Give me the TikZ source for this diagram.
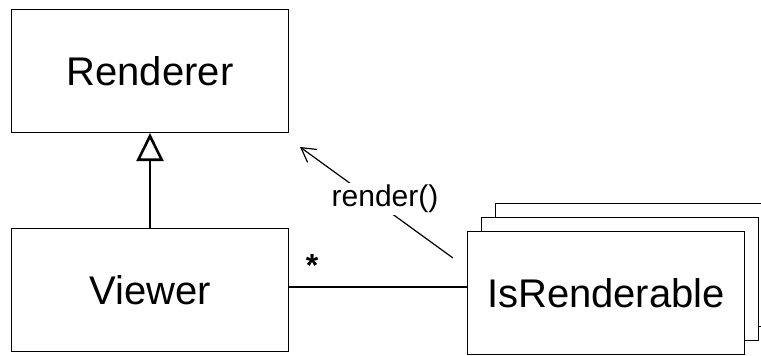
\documentclass[tikz,border=0pt]{standalone}
\usepackage{fontspec}
\setmainfont{Liberation Sans}
\usetikzlibrary{arrows.meta}

\begin{document}
\begin{tikzpicture}[x=1pt, y=1pt, line width=1.2pt,
    classbox/.style={draw, fill=white, minimum width=277pt, minimum height=123pt, inner sep=0pt, font=\fontsize{40}{44}\selectfont}]
    \useasboundingbox (0,0) rectangle (761,356);
    \node[classbox] (renderer) at (150,285) {Renderer};
    \node[classbox] (viewer) at (150,66) {Viewer};
    % stacked instances
    \node[classbox] (back) at (634,91) {};
    \node[classbox] (middle) at (620,77) {};
    \node[classbox] (renderable) at (606,63) {IsRenderable};
    \draw [-{Triangle[open, length=28pt, width=27pt]}, line width=2.6pt] (viewer.north) -- (renderer.south);
    \draw (viewer.east |- 0,69) -- (renderable.west |- 0,69) node[pos=0, xshift=23pt, yshift=22pt, font=\bfseries\fontsize{32}{34}\selectfont]{*};
    \coordinate (callstart) at (453,98);
    \coordinate (callend) at (300,209);
    \draw [-{Straight Barb[length=14pt, width=16pt]}] (callstart) -- (callend);
    \node[fill=white, inner sep=2pt, font=\fontsize{30}{32}\selectfont] (call) at (385,157) {render()};
\end{tikzpicture}
\end{document}
